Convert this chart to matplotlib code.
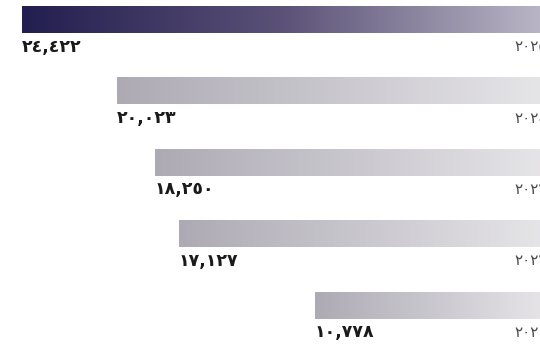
import numpy as np
import matplotlib
matplotlib.use("Agg")
import matplotlib.pyplot as plt
from matplotlib.colors import LinearSegmentedColormap

# data
years = ["٢٠٢٥", "٢٠٢٤", "٢٠٢٣", "٢٠٢٢", "٢٠٢١"]
values = [24422, 20023, 18250, 17127, 10778]
value_labels = ["٢٤,٤٢٢", "٢٠,٠٢٣", "١٨,٢٥٠", "١٧,١٢٧", "١٠,٧٧٨"]

# colours
cmap_top = LinearSegmentedColormap.from_list("top", ["#221e4f", "#5c5278", "#bbb7c7"])
cmap_rest = LinearSegmentedColormap.from_list("rest", ["#adaab4", "#e6e5e8"])

fig = plt.figure(figsize=(5.4, 3.53), dpi=100)
# axes runs a little past the right edge, so the year labels get clipped
ax = fig.add_axes([0, 0, 546.4 / 540, 1])
ax.set_axis_off()

xmax = 546.4 / 0.02147
bar_h = 0.378
grad = np.linspace(0, 1, 256).reshape(1, -1)
year_x = 1509  # year labels start just left of the right edge

for i, (yr, v, lab) in enumerate(zip(years, values, value_labels)):
    cm = cmap_top if i == 0 else cmap_rest
    ax.imshow(grad, cmap=cm, aspect="auto", interpolation="bicubic",
              extent=(v, 0, i + bar_h / 2, i - bar_h / 2), zorder=1)
    ax.text(v, i + 0.38, lab, ha="left", va="center", fontsize=12.5,
            fontweight="bold", color="#1a1a1a", family="DejaVu Sans")
    ax.text(year_x, i + 0.38, yr, ha="left", va="center", fontsize=11,
            color="#4a4a4a", family="DejaVu Sans")

ax.set_xlim(xmax, 0)
ax.set_ylim(4.671, -0.273)

fig.savefig("out.png", dpi=100)
